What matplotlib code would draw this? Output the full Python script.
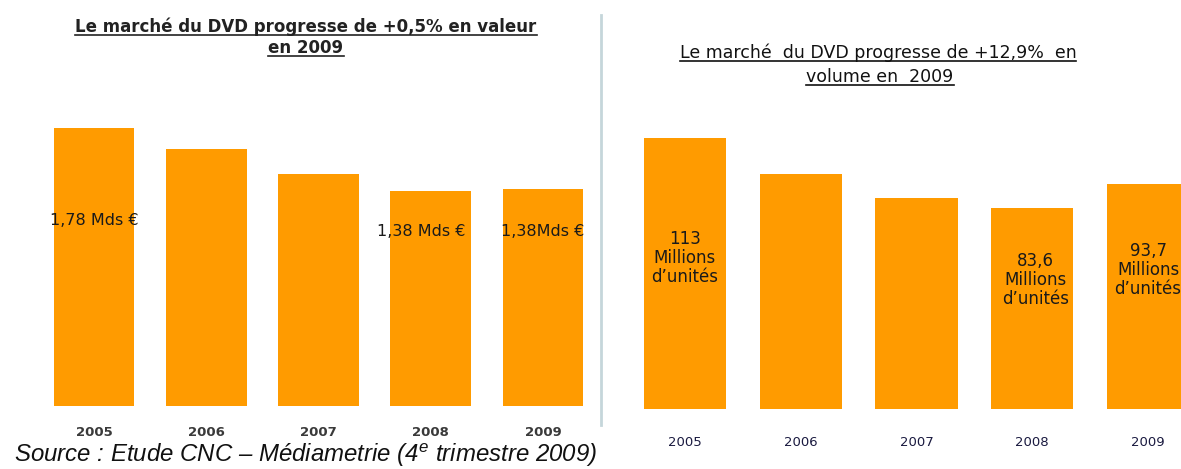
import matplotlib
matplotlib.use("Agg")
import matplotlib.pyplot as plt
from matplotlib.lines import Line2D

# data
years = ["2005", "2006", "2007", "2008", "2009"]
valeur = [1.78, 1.65, 1.49, 1.38, 1.39]          # Mds €
volume = [113, 98, 88, 83.6, 93.7]               # millions d'unités

valeur_labels = {0: "1,78 Mds €", 3: "1,38 Mds €", 4: "1,38Mds €"}
volume_labels = {0: "113\nMillions\nd\u2019unités",
                 3: "83,6\nMillions\nd\u2019unités",
                 4: "93,7\nMillions\nd\u2019unités"}

orange = "#ff9b00"
W, H = 1181, 469

plt.rcParams["mathtext.fontset"] = "custom"
plt.rcParams["mathtext.rm"] = "Liberation Sans:italic"
plt.rcParams["mathtext.it"] = "Liberation Sans:italic"

fig = plt.figure(figsize=(W / 100, H / 100), dpi=100)


def px_axes(left, bottom, right, top):
    # pixel box (origin top-left) -> figure fraction axes
    return fig.add_axes([left / W, 1 - bottom / H, (right - left) / W, (bottom - top) / H])


# left panel: value
ax1 = px_axes(38, 406, 599, 94)
x = range(len(years))
ax1.bar(x, valeur, width=0.72, color=orange)
ax1.set_xlim(-0.5, 4.5)
ax1.set_ylim(0, 2.0)
ax1.set_xticks(list(x))
ax1.set_xticklabels(years, fontsize=9.5, fontweight="bold", color="#3a3a3a")
ax1.tick_params(length=0, pad=14.5)
ax1.set_yticks([])
for s in ax1.spines.values():
    s.set_visible(False)
offsets = {0: (0, 1.186), 3: (-0.08, 1.12), 4: (0, 1.12)}
for i, lab in valeur_labels.items():
    dx, y = offsets[i]
    ax1.text(i + dx, y, lab, ha="center", va="center", fontsize=11.5, color="#1a1a1a")

# right panel: volume
ax2 = px_axes(627, 409, 1206, 97)
ax2.bar(x, volume, width=0.71, color=orange)
ax2.set_xlim(-0.5, 4.5)
ax2.set_ylim(0, 130)
ax2.set_xticks(list(x))
ax2.set_xticklabels(years, fontsize=9.5, color="#1a1a40")
ax2.tick_params(length=0, pad=19.5)
ax2.set_yticks([])
for s in ax2.spines.values():
    s.set_visible(False)
offsets2 = {0: (0, 63), 3: (0.03, 53.8), 4: (0, 58)}
for i, lab in volume_labels.items():
    dx, y = offsets2[i]
    ax2.text(i + dx, y, lab, ha="center", va="center", fontsize=12,
             color="#1a1a1a", linespacing=1.05)

# divider
fig.add_artist(Line2D([601 / W, 601 / W], [1 - 15 / H, 1 - 425 / H],
                      color="#c5d6da", lw=2))

# titles
titles = []
titles.append(fig.text(306 / W, 1 - 27 / H, "Le marché du DVD progresse de +0,5% en valeur",
                       ha="center", va="center", fontsize=12, fontweight="bold", color="#222222"))
titles.append(fig.text(306 / W, 1 - 48 / H, "en 2009",
                       ha="center", va="center", fontsize=12, fontweight="bold", color="#222222"))
titles.append(fig.text(878 / W, 1 - 53 / H, "Le marché  du DVD progresse de +12,9%  en",
                       ha="center", va="center", fontsize=12.5, color="#111111"))
titles.append(fig.text(880 / W, 1 - 77 / H, "volume en  2009",
                       ha="center", va="center", fontsize=12.5, color="#111111"))

# source
fig.text(14 / W, 1 - 455 / H, "Source : Etude CNC – Médiametrie (4$^{e}$ trimestre 2009)",
         ha="left", va="center", fontsize=17.3, style="italic",
         family="Liberation Sans", color="#111111")

# underline the titles
fig.canvas.draw()
r = fig.canvas.get_renderer()
inv = fig.transFigure.inverted()
for t in titles:
    bb = t.get_window_extent(r)
    (x0, y0), (x1, _) = inv.transform([(bb.x0, bb.y0 + 1), (bb.x1, bb.y0 + 1)])
    fig.add_artist(Line2D([x0, x1], [y0, y0], color=t.get_color(), lw=1.2))

fig.savefig("out.png", dpi=100)
